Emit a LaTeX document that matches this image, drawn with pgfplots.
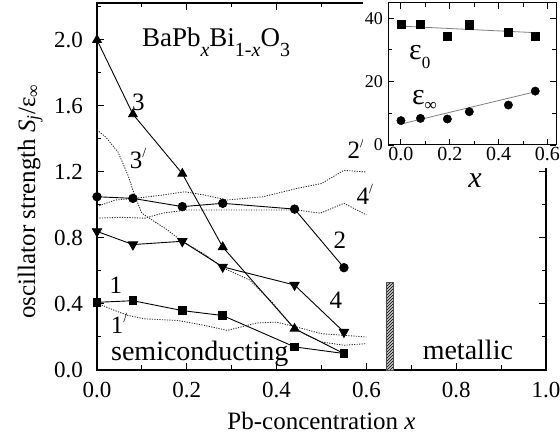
\documentclass[border=0pt]{standalone}
\usepackage{fontspec}
\setmainfont{Liberation Serif}
\usepackage{pgfplots}
\pgfplotsset{compat=1.18}
\usetikzlibrary{patterns}

\newcommand{\fs}[1]{\fontsize{#1}{#1}\selectfont}
\newcommand{\pr}[1]{#1\rlap{\smash{\raisebox{11pt}{\fs{14}/}}}}

\begin{document}
\begin{tikzpicture}
\useasboundingbox (-97pt,-69pt) rectangle (463pt,370pt);
\begin{axis}[
  at={(0pt,0pt)}, anchor=south west,
  scale only axis, width=449pt, height=367pt,
  xmin=0, xmax=1, ymin=0, ymax=2.224,
  xtick={0,0.2,0.4,0.6,0.8,1.0},
  minor xtick={0.1,0.3,0.5,0.7,0.9},
  ytick={0,0.4,0.8,1.2,1.6,2.0},
  minor ytick={0.2,0.6,1.0,1.4,1.8,2.2},
  tick align=inside, major tick length=7pt, minor tick length=4.5pt,
  axis line style={line width=1.2pt},
  every tick/.style={line width=1pt, black},
  xticklabel style={font=\fs{23}, inner sep=0pt, yshift=-12pt},
  yticklabel style={font=\fs{23}, inner sep=0pt, xshift=-14pt},
  xlabel={Pb-concentration \textit{x}},
  xlabel style={font=\fs{25}, at={(axis description cs:0.5,-0.1608)}, anchor=base},
  ylabel={oscillator strength \textit{S}\textsubscript{\textit{j}}/ε\textsubscript{∞}},
  ylabel style={font=\fs{25}, at={(axis description cs:-0.138,0.459)}, anchor=base, rotate=0},
  /pgf/number format/fixed, /pgf/number format/fixed zerofill,
  /pgf/number format/precision=1, /pgf/number format/assume math mode=true,
  clip=false,
]
% dotted curves (primed)
\pgfplotsset{dotc/.style={black!85, dash pattern=on 1.2pt off 1.3pt, line width=0.85pt}}
\addplot[dotc] coordinates {
(0,1.455) (0.02,1.41) (0.047,1.32) (0.069,1.18) (0.085,1.05) (0.1,0.95) (0.122,0.91)
(0.156,0.85) (0.19,0.78) (0.24,0.70) (0.28,0.62) (0.34,0.545) (0.39,0.41) (0.43,0.28)
(0.46,0.22) (0.5,0.17) (0.55,0.15) (0.6,0.16)};
\addplot[dotc] coordinates {
(0,0.405) (0.04,0.36) (0.07,0.33) (0.107,0.31) (0.18,0.30) (0.24,0.27) (0.29,0.24)
(0.356,0.285) (0.4,0.29) (0.445,0.26) (0.5,0.22) (0.55,0.21) (0.6,0.20)};
\addplot[dotc] coordinates {
(0,0.99) (0.04,1.03) (0.085,1.04) (0.145,1.06) (0.196,1.08) (0.24,1.06) (0.29,1.03)
(0.37,1.05) (0.445,1.10) (0.5,1.13) (0.55,1.21) (0.6,1.20)};
\addplot[dotc] coordinates {
(0,0.92) (0.055,0.925) (0.107,0.92) (0.145,0.95) (0.2,0.97) (0.29,0.97) (0.37,0.97)
(0.445,0.97) (0.497,0.95) (0.55,1.01) (0.6,0.94)};
% solid curves
\addplot[black, line width=0.9pt, mark=triangle*, mark size=5pt, mark indices={1,2,3,4,5}] coordinates {
(0,2.0) (0.08,1.55) (0.19,1.19) (0.28,0.745) (0.44,0.25) (0.55,0.10)};
\addplot[black, line width=0.9pt, mark=*, mark size=4.2pt] coordinates {
(0,1.05) (0.08,1.04) (0.19,0.99) (0.28,1.01) (0.44,0.975) (0.55,0.62)};
\addplot[black, line width=0.9pt, mark=triangle*, mark size=5.3pt, every mark/.append style={rotate=180}] coordinates {
(0,0.84) (0.08,0.76) (0.19,0.78) (0.28,0.625) (0.44,0.515) (0.55,0.23)};
\addplot[black, line width=0.9pt, mark=square*, mark size=3.8pt] coordinates {
(0,0.41) (0.08,0.42) (0.19,0.36) (0.28,0.33) (0.44,0.14) (0.55,0.10)};
% transition bar
\addplot[draw=black!70, line width=0.6pt, fill=gray!45, postaction={pattern=north east lines}] coordinates {(0.645,0.53) (0.66,0.53)} \closedcycle;
% labels
\node[font=\fs{27}, anchor=base west, inner sep=0pt] at (axis cs:0.1,1.96)
  {BaPb\raisebox{-10pt}{\fs{20}\textit{x}}Bi\raisebox{-10pt}{\fs{20}1-\textit{x}}O\raisebox{-10pt}{\fs{20}3}};
\node[font=\fs{25}, inner sep=0pt] at (axis cs:0.092,1.624) {3};
\node[font=\fs{25}, inner sep=0pt] at (axis cs:0.087,1.27) {\pr{3}};
\node[font=\fs{25}, inner sep=0pt] at (axis cs:0.572,1.333) {\pr{2}};
\node[font=\fs{25}, inner sep=0pt] at (axis cs:0.592,1.05) {\pr{4}};
\node[font=\fs{25}, inner sep=0pt] at (axis cs:0.541,0.788) {2};
\node[font=\fs{25}, inner sep=0pt] at (axis cs:0.532,0.424) {4};
\node[font=\fs{25}, inner sep=0pt] at (axis cs:0.042,0.515) {1};
\node[font=\fs{25}, inner sep=0pt] at (axis cs:0.045,0.272) {\pr{1}};
\node[font=\fs{28}, anchor=base, inner sep=0pt] at (axis cs:0.229,0.058) {semiconducting};
\node[font=\fs{28}, anchor=base, inner sep=0pt] at (axis cs:0.826,0.062) {metallic};
\end{axis}
\fill[white] (266pt,202pt) rectangle (463pt,370pt);
\begin{axis}[
  at={(291pt,225pt)}, anchor=south west,
  scale only axis, width=168pt, height=142pt,
  xmin=-0.053, xmax=0.635, ymin=0, ymax=44.8,
  xtick={0,0.2,0.4,0.6}, minor xtick={0.1,0.3,0.5},
  ytick={0,20,40}, minor ytick={10,30},
  tick align=inside, major tick length=6pt, minor tick length=4pt,
  axis line style={line width=1pt},
  every tick/.style={line width=0.9pt, black},
  xticklabel style={font=\fs{20}, inner sep=0pt, yshift=-2pt},
  yticklabel style={font=\fs{18}, inner sep=0pt, xshift=-5pt, /pgf/number format/precision=0},
  xlabel={\textit{x}},
  xlabel style={font=\fs{30}, at={(axis description cs:0.518,-0.296)}, anchor=base},
  /pgf/number format/fixed, /pgf/number format/fixed zerofill,
  /pgf/number format/precision=1, /pgf/number format/assume math mode=true,
  clip=false,
]
\addplot[gray, line width=0.8pt] coordinates {(0,37.5) (0.56,35.4)};
\addplot[gray, line width=0.8pt] coordinates {(0,6.6) (0.55,16.8)};
\addplot[only marks, mark=square*, mark size=4.2pt, black] coordinates {
(0,38.2) (0.08,38.2) (0.19,34.4) (0.28,37.9) (0.44,35.6) (0.55,34.4)};
\addplot[only marks, mark=*, mark size=4.2pt, black] coordinates {
(0,7.7) (0.08,8.4) (0.19,8.2) (0.28,10.5) (0.44,12.6) (0.55,17.0)};
\node[font=\fs{30}, anchor=base west, inner sep=0pt] at (axis cs:0.033,26.9) {ε\raisebox{-9pt}{\fs{17}0}};
\node[font=\fs{30}, anchor=base west, inner sep=0pt] at (axis cs:0.045,12.7) {ε\raisebox{-6pt}{\fs{17}∞}};
\end{axis}
\end{tikzpicture}
\end{document}
